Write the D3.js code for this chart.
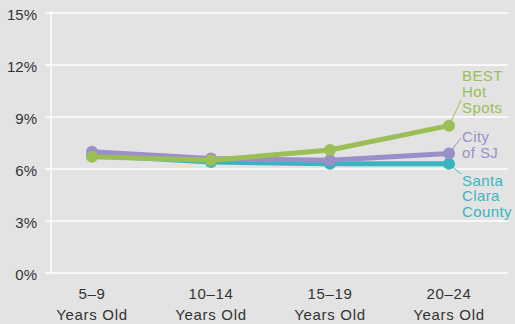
<!DOCTYPE html>
<html><head><meta charset="utf-8">
<script src="https://cdn.jsdelivr.net/npm/d3@7"></script>
<style>html,body{margin:0;padding:0;background:#e3e3e3;}svg{display:block;}</style>
</head><body>
<svg id="c" width="515" height="324"></svg>
<script>
const categories = ["5–9|Years Old","10–14|Years Old","15–19|Years Old","20–24|Years Old"];
const yTicks = [0,3,6,9,12,15];
const bestHotSpots = [6.7, 6.5, 7.1, 8.5];
const cityOfSJ = [7.0, 6.6, 6.5, 6.9];
const santaClara = [6.8, 6.4, 6.3, 6.3];
const seriesNames = [["Santa","Clara","County"],["City","of SJ"],["BEST","Hot","Spots"]];

const svg = d3.select("#c");
const W=515,H=324;
svg.append("rect").attr("width",W).attr("height",H).attr("fill","#e3e3e3");
const x = d3.scalePoint().domain(categories).range([92,449]);
const y = d3.scaleLinear().domain([0,15]).range([273,13]);
const font = "'Liberation Sans', Arial, sans-serif";

// gridlines
svg.append("g").selectAll("line").data(yTicks).join("line")
  .attr("x1",45).attr("x2",508).attr("y1",d=>y(d)).attr("y2",d=>y(d))
  .attr("stroke","#fff").attr("stroke-width",1.5);
svg.append("line").attr("x1",51).attr("x2",51).attr("y1",11).attr("y2",273)
  .attr("stroke","#fff").attr("stroke-width",1.5);

// y labels
svg.append("g").selectAll("text").data(yTicks).join("text")
  .attr("x",37).attr("y",d=>y(d)+6.5).attr("text-anchor","end")
  .attr("font-family",font).attr("font-size",15).attr("fill","#333")
  .text(d=>d+"%");

// x labels
const xl = svg.append("g").selectAll("text").data(categories).join("text")
  .attr("text-anchor","middle").attr("font-family",font).attr("font-size",15)
  .attr("letter-spacing",0.7).attr("fill","#333");
xl.each(function(d){
  const parts=d.split("|");
  const t=d3.select(this);
  parts.forEach((p,i)=>t.append("tspan").attr("x",x(d)).attr("y",298.5+i*21).text(p));
});

const series = [
  {vals:santaClara, color:"#3ab5c0", names:seriesNames[0], ly:185.5},
  {vals:cityOfSJ, color:"#9b8fca", names:seriesNames[1], ly:141.7},
  {vals:bestHotSpots, color:"#9bbf56", names:seriesNames[2], ly:81}
];
const line = d3.line().x((d,i)=>x(categories[i])).y(d=>y(d));
series.forEach(s=>{
  const g = svg.append("g");
  g.append("path").attr("d",line(s.vals)).attr("fill","none")
    .attr("stroke",s.color).attr("stroke-width",5).attr("stroke-linejoin","round");
  g.selectAll("circle").data(s.vals).join("circle")
    .attr("cx",(d,i)=>x(categories[i])).attr("cy",d=>y(d)).attr("r",6).attr("fill",s.color);
});
// labels & leaders
const leaderEnds = [174, 138, 100];
series.forEach((s,k)=>{
  const last = s.vals[s.vals.length-1];
  svg.append("line").attr("x1",x(categories[3])).attr("y1",y(last))
    .attr("x2",461).attr("y2",leaderEnds[k]).attr("stroke",s.color).attr("stroke-width",1);
  const t = svg.append("text").attr("font-family",font).attr("font-size",15)
    .attr("letter-spacing",0.4).attr("fill",s.color);
  s.names.forEach((n,i)=>t.append("tspan").attr("x",462).attr("y",s.ly+i*15.8).text(n));
});
</script>
</body></html>
